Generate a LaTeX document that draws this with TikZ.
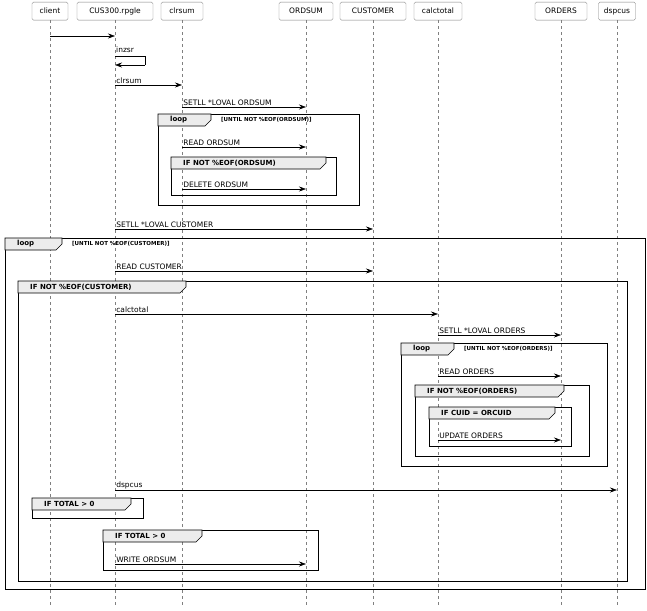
\documentclass[tikz,border=0pt]{standalone}
\usepackage{fontspec}
\setmainfont{DejaVu Sans}
\usetikzlibrary{arrows.meta}
\begin{document}
\begin{tikzpicture}[x=1pt,y=-1pt,
 head/.style={draw=gray,rounded corners=1.5pt,font=\fontsize{7.5}{9}\selectfont,inner sep=0pt,minimum height=18pt,anchor=north},
 life/.style={gray,dashed,dash pattern=on 3pt off 3pt,line width=0.4pt},
 msg/.style={-{Stealth[length=7pt,width=5pt]},line width=0.6pt},
 lbl/.style={font=\fontsize{7.5}{9}\selectfont,anchor=south west,inner sep=1pt},
 tab/.style={fill=gray!15,draw,line width=0.6pt},
 fr/.style={draw,line width=0.8pt}]
\useasboundingbox (0,0) rectangle (647,610);
\node[head,minimum width=36pt] (cl) at (50,2) {client};
\node[head,minimum width=76pt] (cu) at (115,2) {CUS300.rpgle};
\node[head,minimum width=42pt] (cs) at (182,2) {clrsum};
\node[head,minimum width=54pt] (os) at (306,2) {ORDSUM};
\node[head,minimum width=66pt] (cm) at (373,2) {CUSTOMER};
\node[head,minimum width=48pt] (ct) at (438,2) {calctotal};
\node[head,minimum width=52pt] (or) at (561,2) {ORDERS};
\node[head,minimum width=37pt] (dc) at (617,2) {dspcus};
\foreach \n in {cl,cu,cs,os,cm,ct,or,dc} \draw[life] (\n.south) -- (\n.south |- 0,606);
% frames: x1 y1 x2 y2 label tabw cond
\newcommand{\frm}[7]{%
 \draw[fr] (#1,#2) rectangle (#3,#4);
 \draw[tab] (#1,#2) -- ++(#6,0) -- ++(0,6) -- ++(-6,6) -- (#1,#2+12) -- cycle;
 \node[font=\fontsize{7}{8}\selectfont\bfseries,anchor=west,inner sep=0pt] at (#1+12,#2+6) {#5};
 \node[font=\fontsize{5.5}{6}\selectfont\bfseries,anchor=west,inner sep=0pt] at (#1+#6+10,#2+6) {#7};}
\frm{158}{114}{359}{205}{loop}{53}{[UNTIL NOT \%EOF(ORDSUM)]}
\frm{171}{157}{336}{195}{IF NOT \%EOF(ORDSUM)}{155}{}
\frm{5}{238}{645}{589}{loop}{57}{[UNTIL NOT \%EOF(CUSTOMER)]}
\frm{18}{281}{627}{581}{IF NOT \%EOF(CUSTOMER)}{168}{}
\frm{401}{343}{607}{466}{loop}{53}{[UNTIL NOT \%EOF(ORDERS)]}
\frm{415}{385}{589}{456}{IF NOT \%EOF(ORDERS)}{149}{}
\frm{429}{407}{571}{446}{IF CUID = ORCUID}{126}{}
\frm{32}{498}{143}{518}{IF TOTAL > 0}{99}{}
\frm{103}{530}{318}{570}{IF TOTAL > 0}{99}{}
% messages
\draw[msg] (cl.south |- 0,36) -- (cu.south |- 0,36);
\draw[line width=0.6pt] (cu.south |- 0,56) -- (145,56) -- (145,65);
\draw[msg] (145,65) -- (cu.south |- 0,65);
\node[lbl] at (cu.south |- 0,54) {inzsr};
\newcommand{\msgg}[4]{\draw[msg] (#1.south |- 0,#3) -- (#2.south |- 0,#3) node[lbl,pos=0] at (#1.south |- 0,#3-1) {#4};}
\msgg{cu}{cs}{85}{clrsum}
\msgg{cs}{os}{107}{SETLL *LOVAL ORDSUM}
\msgg{cs}{os}{147}{READ ORDSUM}
\msgg{cs}{os}{189}{DELETE ORDSUM}
\msgg{cu}{cm}{229}{SETLL *LOVAL CUSTOMER}
\msgg{cu}{cm}{271}{READ CUSTOMER}
\msgg{cu}{ct}{314}{calctotal}
\msgg{ct}{or}{335}{SETLL *LOVAL ORDERS}
\msgg{ct}{or}{376}{READ ORDERS}
\msgg{ct}{or}{440}{UPDATE ORDERS}
\msgg{cu}{dc}{490}{dspcus}
\msgg{cu}{os}{564}{WRITE ORDSUM}
\end{tikzpicture}
\end{document}
